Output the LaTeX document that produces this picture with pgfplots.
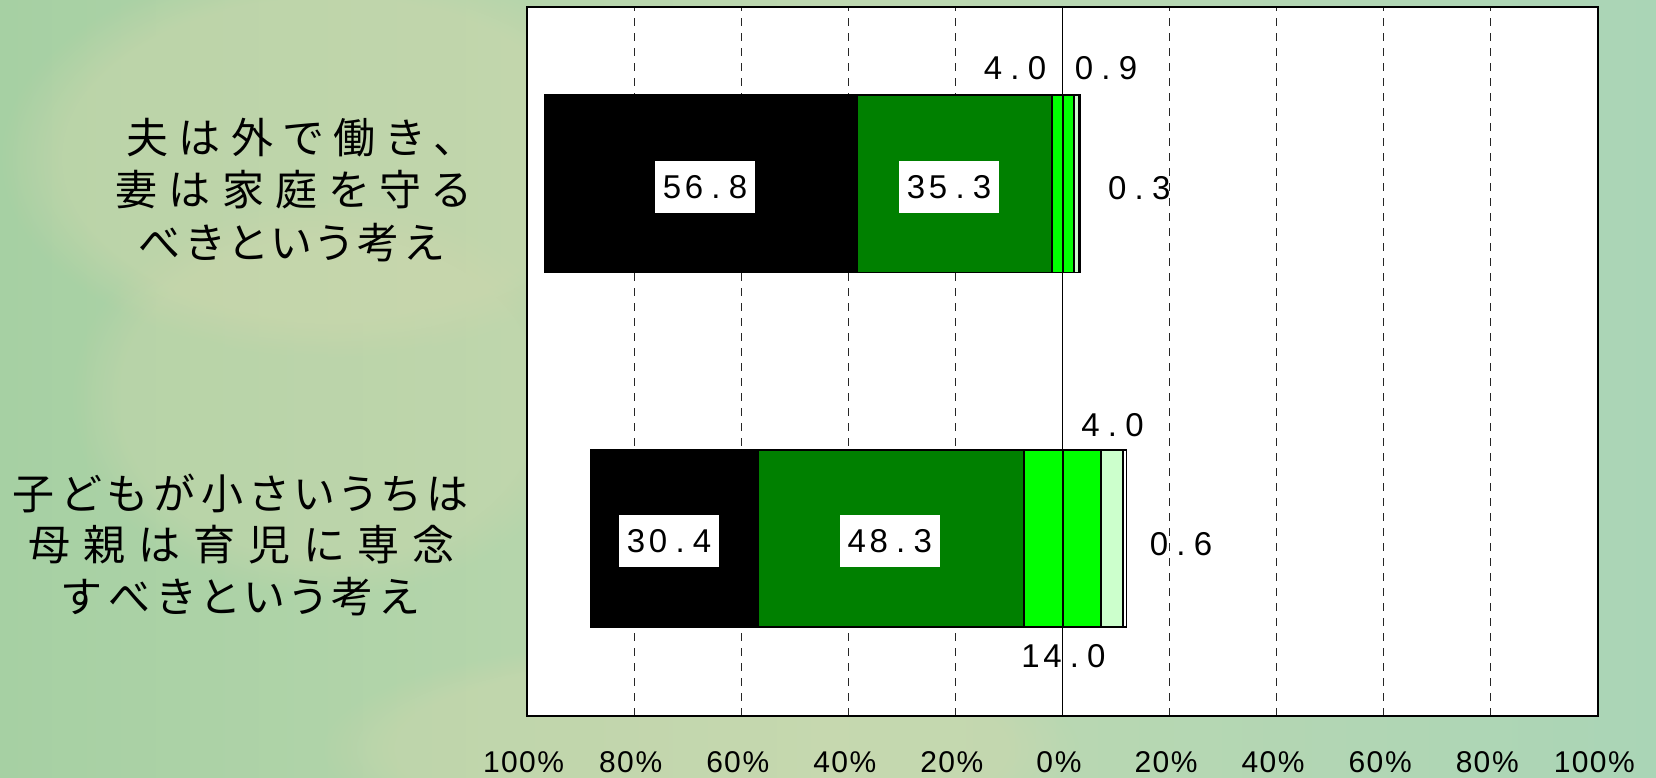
\documentclass[border=0pt]{standalone}
\usepackage{pgfplots}
\pgfplotsset{compat=1.18}
\usepackage{pgfplotstable}
\usepackage{fontspec}
\usetikzlibrary{fadings}
\setmainfont{Liberation Sans}
\newfontfamily\jpfont[RawFeature=+palt]{Noto Sans CJK JP}

\definecolor{agreecol}{RGB}{0,0,0}
\definecolor{rathercol}{RGB}{0,128,0}
\definecolor{neutralcol}{RGB}{0,255,0}
\definecolor{rathernocol}{RGB}{204,255,204}
\definecolor{nocol}{RGB}{255,255,255}
\definecolor{bgleft}{RGB}{166,208,163}
\definecolor{bgmid}{RGB}{190,216,176}
\definecolor{bgright}{RGB}{170,213,182}
\definecolor{bgbeige}{RGB}{210,216,174}

% each character in a cell of equal width
\newlength\cpitch
\def\spaced#1{\spacedloop#1\relax}
\def\spacedloop#1{\ifx\relax#1\else\makebox[\cpitch][c]{#1}\expandafter\spacedloop\fi}
\newcommand\pct[1]{\spaced{#1}\kern1pt\%}

% a line of text spread evenly over a given width
\def\spreadloop#1{\ifx\relax#1\else#1\expandafter\spreadnext\fi}
\def\spreadnext#1{\ifx\relax#1\else\hfil#1\expandafter\spreadnext\fi}
\newcommand\spread[2]{\makebox[#1][s]{\spreadloop#2\relax}}

\tikzset{
  value/.style={font={\fontsize{33}{33}\selectfont\cpitch=22pt}, text=black},
  boxed/.style={value, fill=white, inner sep=0pt, minimum width=100pt, minimum height=52pt},
  catline/.style={anchor=west, font={\fontsize{42}{42}\selectfont\jpfont}, inner sep=0pt},
}

% shares in percent; pos = vertical position of the bar
\pgfplotstableread{
pos   agree rather neutral ratherno no
531.9 56.8  35.3   4.0     0.9      0.3
177.1 30.4  48.3   14.0    4.0      0.6
}\survey

\newcommand\rowtotal{(\thisrow{agree}+\thisrow{rather}+\thisrow{neutral}+\thisrow{ratherno}+\thisrow{no})}

\begin{document}
\begin{tikzpicture}
\useasboundingbox (0pt,0pt) rectangle (1656pt,778pt);
% textured paper background
\begin{scope}
\clip (0pt,0pt) rectangle (1656pt,778pt);
\shade[left color=bgleft, right color=bgright, middle color=bgmid] (0pt,0pt) rectangle (1656pt,778pt);
\fill[bgbeige, path fading=circle with fuzzy edge 20 percent, opacity=0.45] (330pt,620pt) ellipse (330pt and 200pt);
\fill[bgbeige, path fading=circle with fuzzy edge 20 percent, opacity=0.35] (330pt,380pt) ellipse (260pt and 200pt);
\fill[bgbeige, path fading=circle with fuzzy edge 20 percent, opacity=0.4] (700pt,30pt) ellipse (380pt and 110pt);
\end{scope}

\begin{axis}[
  at={(527.3pt,62.3pt)}, anchor=south west,
  scale only axis, width=1070.7pt, height=708.4pt,
  xmin=-100, xmax=100, ymin=0, ymax=708.4,
  axis background/.style={fill=white},
  axis line style={line width=2.2pt, black},
  xtick={-100,-80,...,100},
  xticklabels={\pct{100},\pct{80},\pct{60},\pct{40},\pct{20},\pct{0},\pct{20},\pct{40},\pct{60},\pct{80},\pct{100}},
  xticklabel style={font={\fontsize{30}{30}\selectfont\cpitch=18pt}, anchor=center, yshift=-46.8pt, xshift=-4pt},
  ytick=\empty,
  major tick length=0pt,
  xmajorgrids,
  grid style={black!85, line width=1pt, dash pattern=on 8pt off 7pt},
  clip=false,
  every axis plot/.append style={xbar, bar shift=0pt, bar width=177.5, draw=black, line width=1.8pt},
]
\draw[black, line width=1pt] (axis cs:0,0) -- (axis cs:0,708.4);

% agreeing side, drawn from the longest cumulative bar inwards
\addplot[fill=agreecol] table[y=pos, x expr={-100*(\thisrow{agree}+\thisrow{rather}+0.5*\thisrow{neutral})/\rowtotal}] {\survey};
\addplot[fill=rathercol] table[y=pos, x expr={-100*(\thisrow{rather}+0.5*\thisrow{neutral})/\rowtotal}] {\survey};
\addplot[fill=neutralcol] table[y=pos, x expr={-100*(0.5*\thisrow{neutral})/\rowtotal}] {\survey};
% disagreeing side
\addplot[fill=nocol] table[y=pos, x expr={100*(0.5*\thisrow{neutral}+\thisrow{ratherno}+\thisrow{no})/\rowtotal}] {\survey};
\addplot[fill=rathernocol] table[y=pos, x expr={100*(0.5*\thisrow{neutral}+\thisrow{ratherno})/\rowtotal}] {\survey};
\addplot[fill=neutralcol] table[y=pos, x expr={100*(0.5*\thisrow{neutral})/\rowtotal}] {\survey};

% value labels
\node[boxed] at (axis cs:-66.8,528.7) {\spaced{56.8}};
\node[boxed] at (axis cs:-21.2,528.7) {\spaced{35.3}};
\node[value] at (axis cs:-8.9,647.1) {\spaced{4.0}};
\node[value] at (axis cs:8.1,647.1) {\spaced{0.9}};
\node[value] at (axis cs:14.3,527.2) {\spaced{0.3}};
\node[boxed] at (axis cs:-73.5,175.0) {\spaced{30.4}};
\node[boxed] at (axis cs:-32.3,175.0) {\spaced{48.3}};
\node[value] at (axis cs:0.15,59.3) {\spaced{14.0}};
\node[value] at (axis cs:9.3,290.6) {\spaced{4.0}};
\node[value] at (axis cs:22.1,171.8) {\spaced{0.6}};
\end{axis}

% category labels, one node per line
\node[catline] at (126pt,640pt) {\spread{329pt}{夫は外で働き、}};
\node[catline] at (115pt,588pt) {\spread{355pt}{妻は家庭を守る}};
\node[catline] at (138pt,535pt) {\spread{305pt}{べきという考え}};
\node[catline] at (12pt,285pt) {\spread{456pt}{子どもが小さいうちは}};
\node[catline] at (28pt,233pt) {\spread{426pt}{母親は育児に専念}};
\node[catline] at (63pt,181pt) {\spread{355pt}{すべきという考え}};
\end{tikzpicture}
\end{document}
